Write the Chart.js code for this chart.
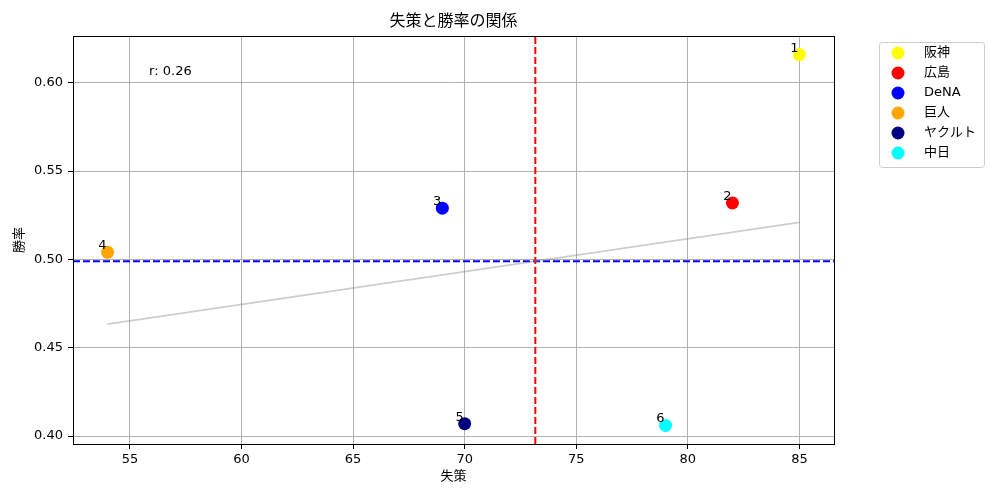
<!DOCTYPE html>
<html lang="ja">
<head>
<meta charset="UTF-8">
<title>失策と勝率の関係</title>
<script src="https://cdn.jsdelivr.net/npm/chart.js"></script>
<style>
  body { margin: 0; background: #fff; }
  canvas { display: block; }
</style>
</head>
<body>
<canvas id="chart" width="1000" height="500"></canvas>
<script>
// data
const teams = ['阪神', '広島', 'DeNA', '巨人', 'ヤクルト', '中日'];
const ranks = ['1', '2', '3', '4', '5', '6'];
const errors = [85, 82, 69, 54, 70, 79];
const winRates = [0.616, 0.532, 0.529, 0.504, 0.407, 0.406];
const teamColors = ['#ffff00', '#ff0000', '#0000ff', '#ffa500', '#000080', '#00ffff'];
const xTicks = [55, 60, 65, 70, 75, 80, 85];
const yTicks = [0.40, 0.45, 0.50, 0.55, 0.60];

const FONT = "'DejaVu Sans', 'Noto Sans CJK JP', sans-serif";

// stats
const n = errors.length;
const meanX = errors.reduce((a, b) => a + b, 0) / n;
const meanY = winRates.reduce((a, b) => a + b, 0) / n;
let sxy = 0, sxx = 0, syy = 0;
for (let i = 0; i < n; i++) {
  sxy += (errors[i] - meanX) * (winRates[i] - meanY);
  sxx += (errors[i] - meanX) ** 2;
  syy += (winRates[i] - meanY) ** 2;
}
const slope = sxy / sxx;
const intercept = meanY - slope * meanX;
const r = sxy / Math.sqrt(sxx * syy);

const minX = Math.min(...errors), maxX = Math.max(...errors);
const minY = Math.min(...winRates), maxY = Math.max(...winRates);
const xMin = minX - (maxX - minX) * 0.05, xMax = maxX + (maxX - minX) * 0.05;
const yMin = minY - (maxY - minY) * 0.05, yMax = maxY + (maxY - minY) * 0.05;

const teamSets = teams.map((t, i) => ({
  label: t,
  data: [{ x: errors[i], y: winRates[i] }],
  backgroundColor: teamColors[i],
  borderWidth: 0,
  pointRadius: 6.5,
  pointHoverRadius: 6.5,
  isTeam: true
}));

const lineSets = [
  {
    label: 'reg',
    type: 'line',
    data: [{ x: minX, y: slope * minX + intercept }, { x: maxX, y: slope * maxX + intercept }],
    borderColor: 'rgba(128,128,128,0.4)',
    borderWidth: 1.7,
    pointRadius: 0
  },
  {
    label: 'meanX',
    type: 'line',
    data: [{ x: meanX, y: yMin }, { x: meanX, y: yMax }],
    borderColor: '#ff0000',
    borderWidth: 2,
    borderDash: [7, 3],
    pointRadius: 0
  },
  {
    label: 'meanY',
    type: 'line',
    data: [{ x: xMin, y: meanY }, { x: xMax, y: meanY }],
    borderColor: '#0000ff',
    borderWidth: 2,
    borderDash: [7, 3],
    pointRadius: 0
  }
];

const decor = {
  id: 'decor',
  afterDraw(chart) {
    const ctx = chart.ctx;
    const a = chart.chartArea;
    const xs = chart.scales.x, ys = chart.scales.y;
    ctx.save();

    // frame
    ctx.strokeStyle = '#000';
    ctx.lineWidth = 1;
    ctx.strokeRect(Math.round(a.left) + 0.5, Math.round(a.top) + 0.5, a.right - a.left, a.bottom - a.top);

    // point labels
    ctx.fillStyle = '#000';
    ctx.font = '13px ' + FONT;
    ctx.textAlign = 'right';
    ctx.textBaseline = 'alphabetic';
    for (let i = 0; i < n; i++) {
      ctx.fillText(ranks[i], xs.getPixelForValue(errors[i]) - 1, ys.getPixelForValue(winRates[i]) - 3);
    }

    // r text
    ctx.textAlign = 'left';
    ctx.textBaseline = 'middle';
    ctx.fillText('r: ' + r.toFixed(2), a.left + (a.right - a.left) * 0.1, 72);

    // title
    ctx.font = '16px ' + FONT;
    ctx.textAlign = 'center';
    ctx.fillText('失策と勝率の関係', (a.left + a.right) / 2, 22);

    // axis titles
    ctx.font = '13px ' + FONT;
    ctx.fillText('失策', (a.left + a.right) / 2, 477);
    ctx.save();
    ctx.translate(20, (a.top + a.bottom) / 2);
    ctx.rotate(-Math.PI / 2);
    ctx.fillText('勝率', 0, 0);
    ctx.restore();

    // legend
    const lx = 879.5, ly = 42.5, lw = 105, lh = 125;
    ctx.beginPath();
    ctx.roundRect(lx, ly, lw, lh, 3);
    ctx.fillStyle = 'rgba(255,255,255,0.8)';
    ctx.fill();
    ctx.strokeStyle = '#cccccc';
    ctx.stroke();
    ctx.textAlign = 'left';
    ctx.textBaseline = 'middle';
    chart.data.datasets.filter(d => d.isTeam).forEach((d, i) => {
      const cy = 53 + i * 20;
      ctx.beginPath();
      ctx.arc(898, cy, 6.5, 0, Math.PI * 2);
      ctx.fillStyle = d.backgroundColor;
      ctx.fill();
      ctx.fillStyle = '#000';
      ctx.fillText(d.label, 924, cy);
    });

    ctx.restore();
  }
};

new Chart(document.getElementById('chart'), {
  type: 'scatter',
  data: { datasets: [...lineSets, ...teamSets] },
  options: {
    responsive: false,
    devicePixelRatio: 1,
    animation: false,
    layout: { padding: { top: 36, right: 166, left: 0, bottom: 0 } },
    plugins: { legend: { display: false }, tooltip: { enabled: false } },
    scales: {
      x: {
        type: 'linear',
        min: xMin,
        max: xMax,
        afterBuildTicks: s => { s.ticks = xTicks.map(v => ({ value: v })); },
        afterFit: s => { s.height = 56; },
        grid: { color: '#b0b0b0', lineWidth: 1, tickColor: '#000', tickLength: 5 },
        border: { display: false },
        ticks: { color: '#000', font: { family: FONT, size: 13 }, padding: 3, maxRotation: 0 }
      },
      y: {
        type: 'linear',
        min: yMin,
        max: yMax,
        afterBuildTicks: s => { s.ticks = yTicks.map(v => ({ value: v })); },
        afterFit: s => { s.width = 73; },
        grid: { color: '#b0b0b0', lineWidth: 1, tickColor: '#000', tickLength: 5 },
        border: { display: false },
        ticks: { color: '#000', font: { family: FONT, size: 13 }, padding: 5, callback: v => v.toFixed(2) }
      }
    }
  },
  plugins: [decor]
});
</script>
</body>
</html>
